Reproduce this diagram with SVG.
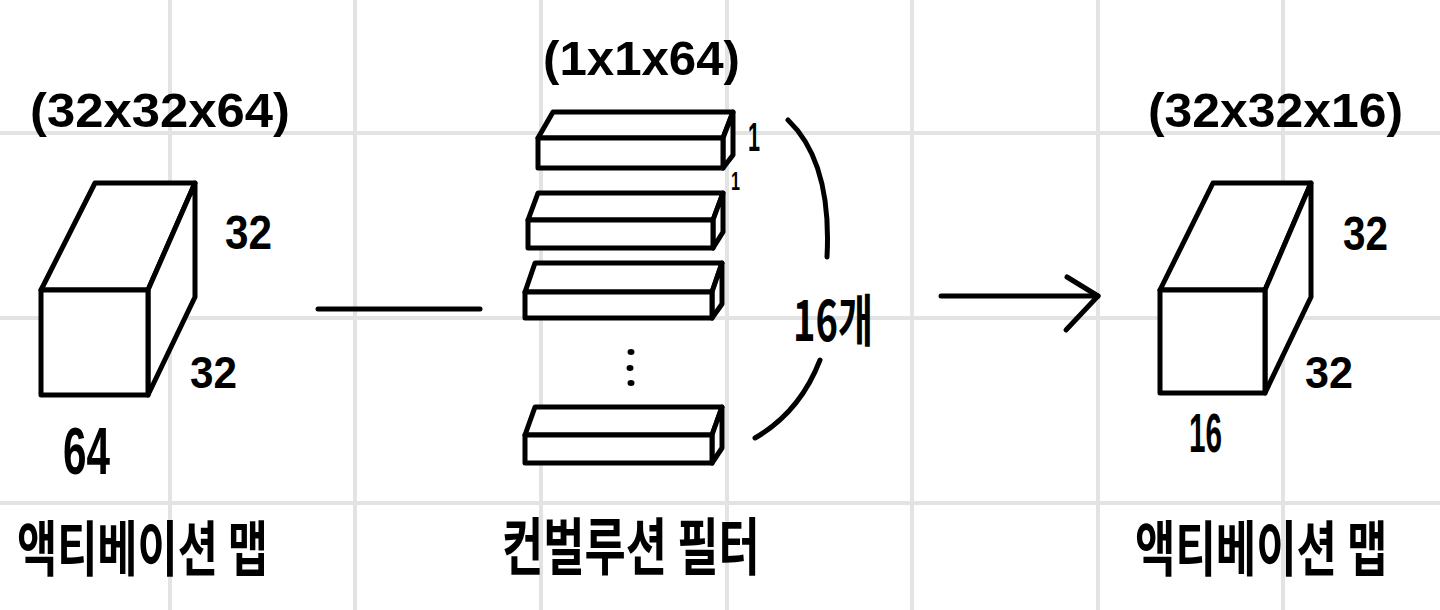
<svg xmlns="http://www.w3.org/2000/svg" width="1440" height="610" viewBox="0 0 1440 610">
<defs>
<style>
.grid line{stroke:#e3e3e3;stroke-width:4}
.ink{fill:none;stroke:#000;stroke-width:5;stroke-linejoin:round;stroke-linecap:round}
.face{fill:#fff;stroke:#000;stroke-width:5;stroke-linejoin:round;stroke-linecap:round}
.num{font-family:"Liberation Sans","DejaVu Sans",sans-serif;font-weight:700;fill:#000}
.kr{font-family:"Noto Sans CJK KR","Noto Sans",sans-serif;font-weight:700;fill:#000}
</style>
</defs>
<rect width="1440" height="610" fill="#fff"/>
<g class="grid">
<line x1="170" y1="0" x2="170" y2="610"/>
<line x1="355" y1="0" x2="355" y2="610"/>
<line x1="541" y1="0" x2="541" y2="610"/>
<line x1="727" y1="0" x2="727" y2="610"/>
<line x1="912" y1="0" x2="912" y2="610"/>
<line x1="1098" y1="0" x2="1098" y2="610"/>
<line x1="1283" y1="0" x2="1283" y2="610"/>
<line x1="0" y1="133" x2="1440" y2="133"/>
<line x1="0" y1="318" x2="1440" y2="318"/>
<line x1="0" y1="503" x2="1440" y2="503"/>
</g>

<g id="input-map">
<path class="face" d="M41,290 L95,183 L195,183 L148,290 Z"/>
<path class="face" d="M148,290 L195,183 L195,297 L148,395 Z"/>
<rect class="face" x="41" y="290" width="107" height="105"/>
<text class="num" x="30" y="127" font-size="48" textLength="260" lengthAdjust="spacingAndGlyphs">(32x32x64)</text>
<text class="num" x="225" y="249" font-size="48" textLength="47" lengthAdjust="spacingAndGlyphs">32</text>
<text class="num" x="190" y="388" font-size="44" textLength="47" lengthAdjust="spacingAndGlyphs">32</text>
<text class="num" x="63" y="474" font-size="66" textLength="47" lengthAdjust="spacingAndGlyphs">64</text>
<text class="kr" transform="translate(17,571) scale(0.68,1)" x="0" y="0" font-size="60" textLength="369" lengthAdjust="spacingAndGlyphs">액티베이션 맵</text>
</g>

<g id="filters">
<text class="num" x="543" y="75" font-size="48" textLength="197" lengthAdjust="spacingAndGlyphs">(1x1x64)</text>
<g id="filter-1">
<path class="face" d="M538,138 L553,112 L733,112 L723,138 Z"/>
<path class="face" d="M723,138 L733,112 L733,155 L723,168 Z"/>
<rect class="face" x="538" y="138" width="185" height="30"/>
</g>
<g id="filter-2">
<path class="face" d="M528,220 L538,193 L723,193 L713,220 Z"/>
<path class="face" d="M713,220 L723,193 L723,232 L713,248 Z"/>
<rect class="face" x="528" y="220" width="185" height="28"/>
</g>
<g id="filter-3">
<path class="face" d="M525,292 L535,263 L722,263 L712,292 Z"/>
<path class="face" d="M712,292 L722,263 L722,304 L712,318 Z"/>
<rect class="face" x="525" y="292" width="187" height="26"/>
</g>
<g id="filter-dots">
<ellipse cx="631" cy="352" rx="3.5" ry="3" fill="#000"/>
<ellipse cx="630" cy="368" rx="3.5" ry="3" fill="#000"/>
<ellipse cx="631" cy="383" rx="3.5" ry="3" fill="#000"/>
</g>
<g id="filter-16">
<path class="face" d="M525,435 L535,407 L722,407 L712,435 Z"/>
<path class="face" d="M712,435 L722,407 L722,448 L712,463 Z"/>
<rect class="face" x="525" y="435" width="187" height="28"/>
</g>
<text class="num" x="748" y="151" font-size="40" textLength="12" lengthAdjust="spacingAndGlyphs">1</text>
<text class="num" x="731" y="190" font-size="26" textLength="9" lengthAdjust="spacingAndGlyphs">1</text>
<text class="kr" x="793" y="341" font-size="56" textLength="80" lengthAdjust="spacingAndGlyphs">16개</text>
<text class="kr" transform="translate(502,570) scale(0.68,1)" x="0" y="0" font-size="62" textLength="379" lengthAdjust="spacingAndGlyphs">컨벌루션 필터</text>
</g>

<g id="output-map">
<path class="face" d="M1160,290 L1213,183 L1311,183 L1265,290 Z"/>
<path class="face" d="M1265,290 L1311,183 L1311,297 L1265,393 Z"/>
<rect class="face" x="1160" y="290" width="105" height="103"/>
<text class="num" x="1148" y="127" font-size="48" textLength="255" lengthAdjust="spacingAndGlyphs">(32x32x16)</text>
<text class="num" x="1343" y="250" font-size="48" textLength="45" lengthAdjust="spacingAndGlyphs">32</text>
<text class="num" x="1305" y="388" font-size="44" textLength="48" lengthAdjust="spacingAndGlyphs">32</text>
<text class="num" x="1189" y="452" font-size="56" textLength="33" lengthAdjust="spacingAndGlyphs">16</text>
<text class="kr" transform="translate(1135,571) scale(0.68,1)" x="0" y="0" font-size="60" textLength="371" lengthAdjust="spacingAndGlyphs">액티베이션 맵</text>
</g>

<g id="connectors">
<line class="ink" x1="318" y1="309" x2="480" y2="309"/>
<line class="ink" x1="941" y1="296" x2="1098" y2="296"/>
<polyline class="ink" points="1067,277 1098,296 1066,330"/>
<path class="ink" d="M788,120 Q832,162 827,257"/>
<path class="ink" d="M820,360 Q800,412 755,438"/>
</g>
</svg>
